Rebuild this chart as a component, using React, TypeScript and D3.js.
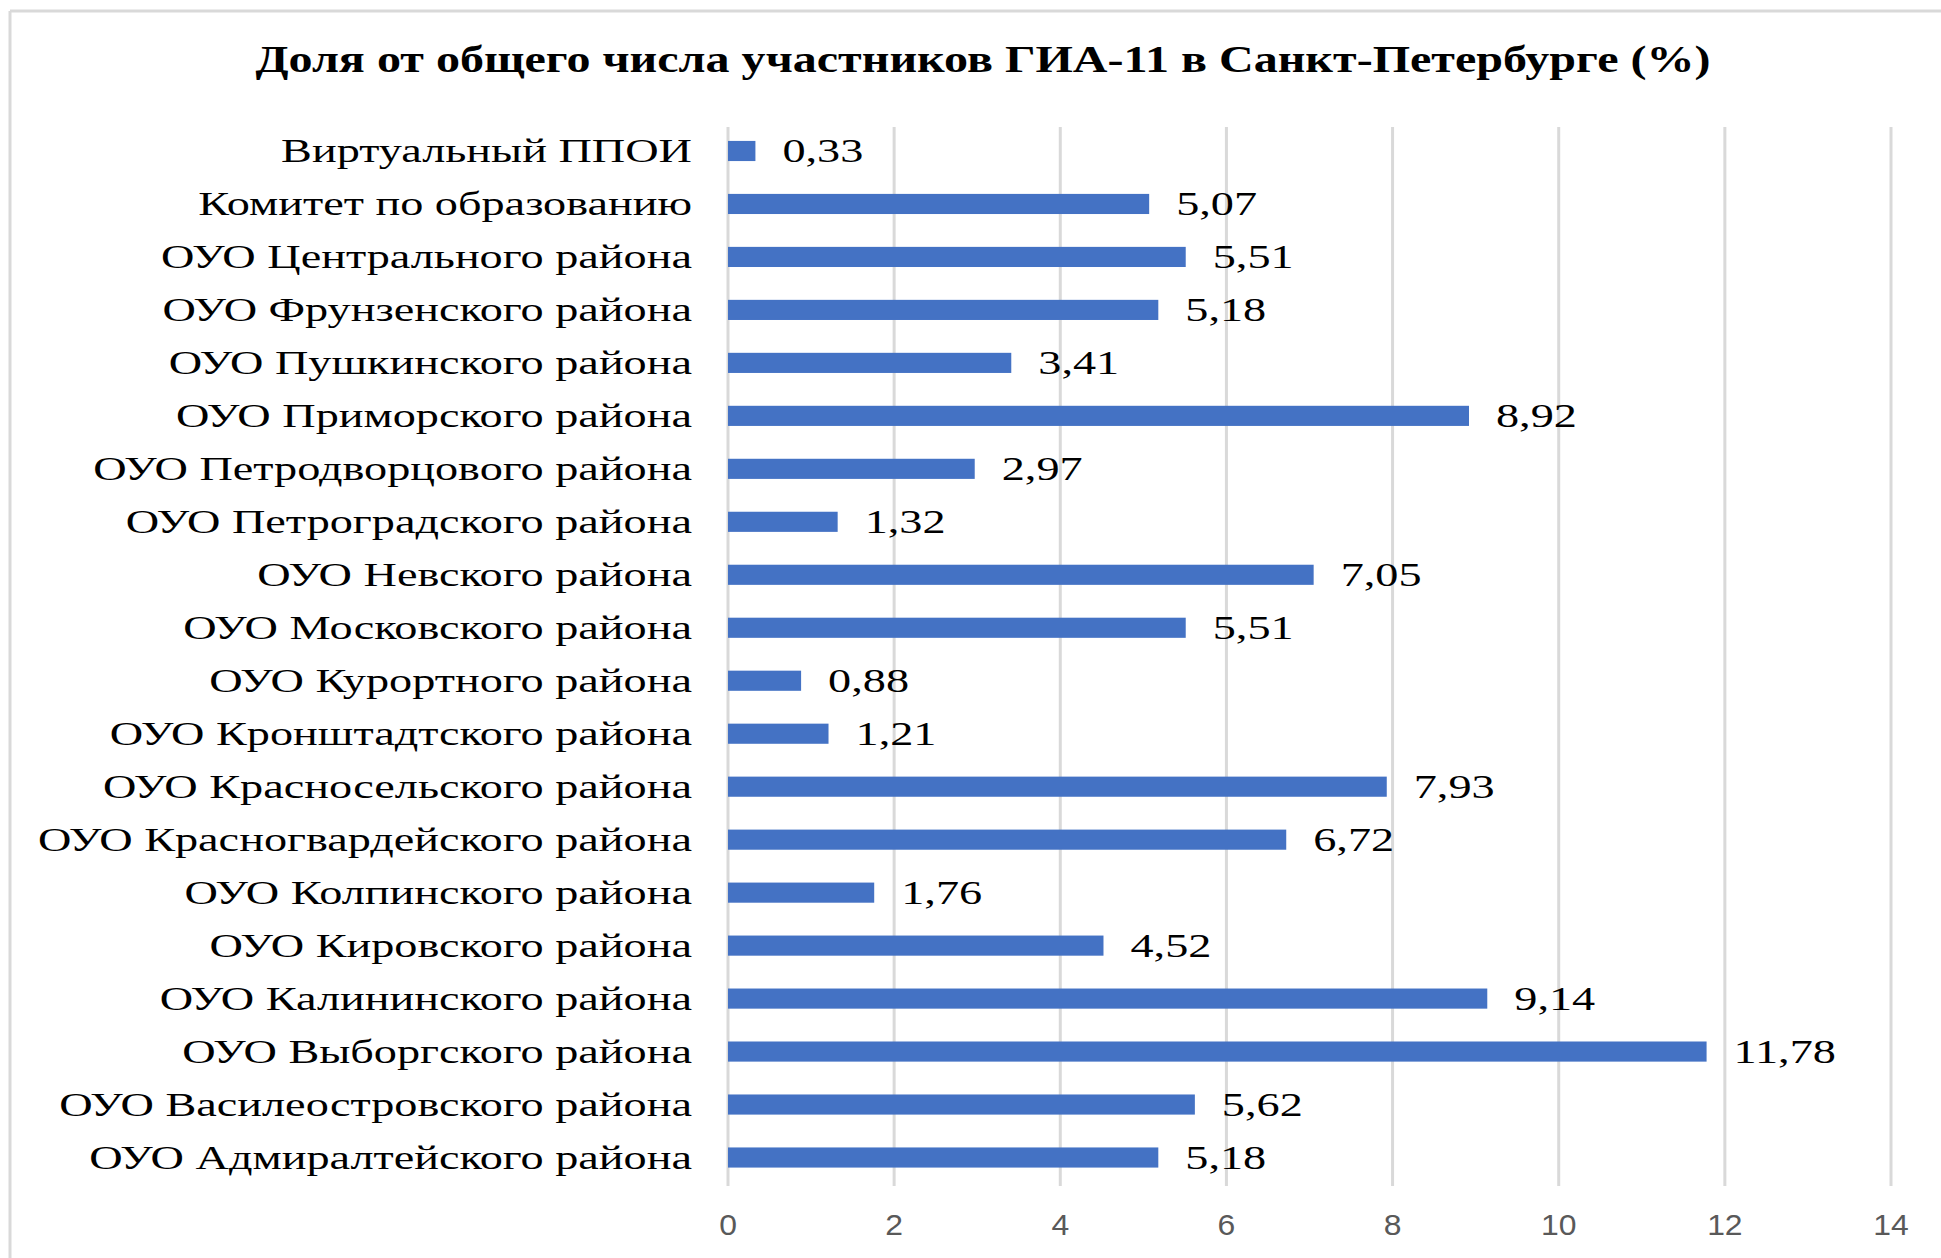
import React from "react";
import * as d3 from "d3";

const categories = [
  "Виртуальный ППОИ",
  "Комитет по образованию",
  "ОУО Центрального района",
  "ОУО Фрунзенского района",
  "ОУО Пушкинского района",
  "ОУО Приморского района",
  "ОУО Петродворцового района",
  "ОУО Петроградского района",
  "ОУО Невского района",
  "ОУО Московского района",
  "ОУО Курортного района",
  "ОУО Кронштадтского района",
  "ОУО Красносельского района",
  "ОУО Красногвардейского района",
  "ОУО Колпинского района",
  "ОУО Кировского района",
  "ОУО Калининского района",
  "ОУО Выборгского района",
  "ОУО Василеостровского района",
  "ОУО Адмиралтейского района",
];
const values = [0.33, 5.07, 5.51, 5.18, 3.41, 8.92, 2.97, 1.32, 7.05, 5.51, 0.88, 1.21, 7.93, 6.72, 1.76, 4.52, 9.14, 11.78, 5.62, 5.18];
const ticks = [0, 2, 4, 6, 8, 10, 12, 14];
const title = "Доля от общего числа участников ГИА-11 в Санкт-Петербурге (%)";

const W = 1941;
const H = 1258;
const SX = 1.36;

export default function App() {
  const x = d3.scaleLinear().domain([0, 14]).range([728, 1891]);
  const y = d3.scaleBand<string>().domain(categories).range([124.5, 1184]).paddingInner(0.62).paddingOuter(0.31);
  const fmt = (v: number) => v.toFixed(2).replace(".", ",");
  const serif = "'Liberation Serif', 'Times New Roman', serif";
  return (
    <svg width={W} height={H} style={{ position: "absolute", left: 0, top: 0, background: "#fff" }}>
      <rect x={0} y={0} width={W} height={H} fill="#fff" />
      <line x1={10} y1={11} x2={W} y2={11} stroke="#d9d9d9" strokeWidth={3} />
      <line x1={10} y1={11} x2={10} y2={H} stroke="#d9d9d9" strokeWidth={3} />
      <text transform={`translate(983,72) scale(1.265,1)`} textAnchor="middle" fontFamily={serif} fontWeight="bold" fontSize={38} fill="#000">
        {title}
      </text>
      {ticks.map((t) => (
        <line key={"g" + t} x1={x(t)} x2={x(t)} y1={127} y2={1186} stroke="#d9d9d9" strokeWidth={3} />
      ))}
      {ticks.map((t) => (
        <text key={"t" + t} transform={`translate(${x(t)},1235) scale(1.1,1)`} textAnchor="middle" fontFamily="'Liberation Sans', Arial, sans-serif" fontSize={29} fill="#595959">
          {t}
        </text>
      ))}
      {categories.map((c, i) => {
        const yy = y(c)!;
        const bw = y.bandwidth();
        const cy = yy + bw / 2;
        return (
          <g key={c}>
            <rect x={x(0)} y={yy} width={x(values[i]) - x(0)} height={bw} fill="#4472C4" />
            <text transform={`translate(692,${cy + 11}) scale(${SX},1)`} textAnchor="end" fontFamily={serif} fontSize={34} fill="#000">
              {c}
            </text>
            <text transform={`translate(${x(values[i]) + 27},${cy + 11}) scale(${SX},1)`} textAnchor="start" fontFamily={serif} fontSize={34} fill="#000">
              {fmt(values[i])}
            </text>
          </g>
        );
      })}
    </svg>
  );
}
